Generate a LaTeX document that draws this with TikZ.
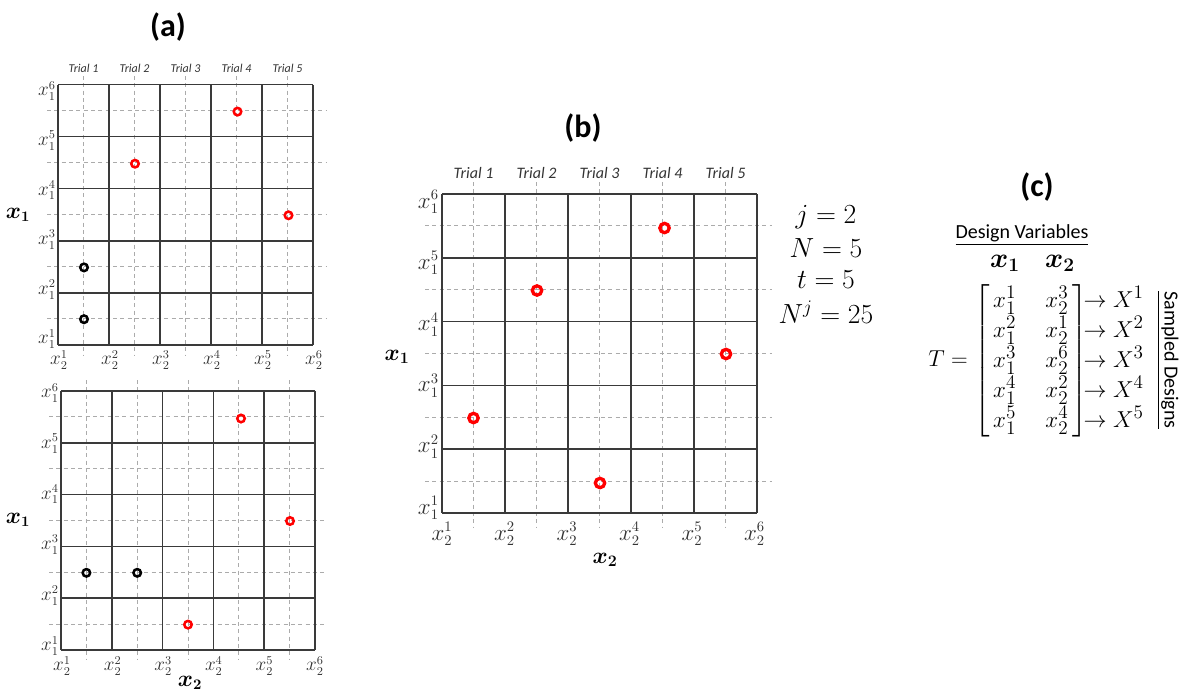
\documentclass[tikz,border=0pt]{standalone}
\usepackage{amsmath}
\usepackage{fontspec}
\setmainfont{Carlito}
\definecolor{gridc}{HTML}{3A3A3A}
\definecolor{dashc}{HTML}{ABABAB}
\definecolor{labc}{HTML}{333333}
\definecolor{ptred}{HTML}{FF0000}
\tikzset{
  gridline/.style={draw=gridc, line width=1.1pt},
  dashline/.style={draw=dashc, line width=0.7pt, dash pattern=on 3pt off 2.5pt},
  ttl/.style={font=\fontsize{24}{28}\selectfont\bfseries, inner sep=0},
  trialA/.style={font=\fontsize{9}{10}\selectfont\itshape, text=labc, inner sep=0},
  trialB/.style={font=\fontsize{12}{14}\selectfont\itshape, text=labc, inner sep=0},
  labA/.style={font=\fontsize{13.5}{15}\selectfont, text=labc, inner sep=0},
  labB/.style={font=\fontsize{16}{18}\selectfont, text=labc, inner sep=0},
  axA/.style={font=\fontsize{16}{18}\selectfont, inner sep=0},
  axB/.style={font=\fontsize{18}{20}\selectfont, inner sep=0},
  ptA/.style={circle, line width=1.9pt, minimum size=5.6pt, inner sep=0},
  ptB/.style={circle, draw=ptred, line width=2.5pt, minimum size=7pt, inner sep=0},
  param/.style={font=\fontsize{21}{24}\selectfont, inner sep=0},
  ctext/.style={font=\fontsize{15}{17}\selectfont, inner sep=0},
  chead/.style={font=\fontsize{20}{22}\selectfont, inner sep=0},
}
\begin{document}
\begin{tikzpicture}[x=0.75pt,y=-0.75pt]
\useasboundingbox (0,0) rectangle (1181,693);

% ================= (a) top =================
\node[ttl] (ta) at (168,27) {(a)};
\foreach \i in {1,...,5} {
  \draw[dashline] ({58+(\i-0.5)*51},76) -- ({58+(\i-0.5)*51},355);
  \draw[dashline] (47,{84.5+(\i-0.5)*52.1}) -- (326,{84.5+(\i-0.5)*52.1});
  \node[trialA] (atr\i) at ({58+(\i-0.5)*51},68) {Trial \i};
}
\foreach \i in {0,...,5} {
  \draw[gridline] ({58+\i*51},84.5) -- ({58+\i*51},345);
  \draw[gridline] (58,{84.5+\i*52.1}) -- (313,{84.5+\i*52.1});
}
\foreach \k in {1,...,6} {
  \node[labA, anchor=east] (ay\k) at (56,{91+(6-\k)*49.6}) {$x_1^{\k}$};
  \node[labA, anchor=north] (ax\k) at ({59+(\k-1)*51},350) {$x_2^{\k}$};
}
\node[axA] (aX1) at (18,215) {$\boldsymbol{x_1}$};
\node[ptA, draw=ptred] (ap1) at (237.5,111.6) {};
\node[ptA, draw=ptred] (ap2) at (135,163.7) {};
\node[ptA, draw=ptred] (ap3) at (288.5,215.3) {};
\node[ptA, draw=black] (ap4) at (84,267.4) {};
\node[ptA, draw=black] (ap5) at (84,319.2) {};

% ================= (a) bottom =================
\foreach \i in {1,...,5} {
  \draw[dashline] ({61+(\i-0.5)*50.8},380) -- ({61+(\i-0.5)*50.8},660);
  \draw[dashline] (49,{391+(\i-0.5)*51.8}) -- (327,{391+(\i-0.5)*51.8});
}
\foreach \i in {0,...,5} {
  \draw[gridline] ({61+\i*50.8},391) -- ({61+\i*50.8},650);
  \draw[gridline] (61,{391+\i*51.8}) -- (315,{391+\i*51.8});
}
\foreach \k in {1,...,6} {
  \node[labA, anchor=east] (by\k) at (59,{393+(6-\k)*50.6}) {$x_1^{\k}$};
  \node[labA, anchor=north] (bx\k) at ({62+(\k-1)*50.6},656) {$x_2^{\k}$};
}
\node[axA] (bX1) at (18,520) {$\boldsymbol{x_1}$};
\node[axA] (bX2) at (190,683) {$\boldsymbol{x_2}$};
\node[ptA, draw=ptred] (bp1) at (241,418.5) {};
\node[ptA, draw=ptred] (bp2) at (290,521) {};
\node[ptA, draw=black] (bp3) at (86.4,572.8) {};
\node[ptA, draw=black] (bp4) at (137.2,572.8) {};
\node[ptA, draw=ptred] (bp5) at (188,624.6) {};

% ================= (b) =================
\node[ttl] (tb) at (583,128) {(b)};
\foreach \i in {1,...,5} {
  \draw[dashline] ({442+(\i-0.5)*63},182) -- ({442+(\i-0.5)*63},527);
  \draw[dashline] (425,{194+(\i-0.5)*63.8}) -- (772,{194+(\i-0.5)*63.8});
  \node[trialB] (ctr\i) at ({442+(\i-0.5)*63},173) {Trial \i};
}
\foreach \i in {0,...,5} {
  \draw[gridline] ({442+\i*63},194) -- ({442+\i*63},513);
  \draw[gridline] (442,{194+\i*63.8}) -- (757,{194+\i*63.8});
}
\foreach \k in {1,...,6} {
  \node[labB, anchor=east] (cy\k) at (439,{202+(6-\k)*61.2}) {$x_1^{\k}$};
  \node[labB, anchor=north] (cx\k) at ({442+(\k-1)*62.5},522) {$x_2^{\k}$};
}
\node[axB] (cX1) at (397,357) {$\boldsymbol{x_1}$};
\node[axB] (cX2) at (605,560) {$\boldsymbol{x_2}$};
\node[ptB] (cp1) at (473.5,418) {};
\node[ptB] (cp2) at (537,290.5) {};
\node[ptB] (cp3) at (600,483) {};
\node[ptB] (cp4) at (664.5,228) {};
\node[ptB] (cp5) at (726,354) {};
\node[param] (pj) at (826,217) {$j=2$};
\node[param] (pN) at (826,248) {$N=5$};
\node[param] (pt) at (826,280) {$t=5$};
\node[param] (pNj) at (826,312) {$N^j=25$};

% ================= (c) =================
\node[ttl] (tc) at (1037,187) {(c)};
\node[ctext] (dv) at (1022,235) {\underline{Design Variables}};
\node[chead] (h1) at (1005,263) {$\boldsymbol{x_1}$};
\node[chead] (h2) at (1060,263) {$\boldsymbol{x_2}$};
\node[font=\fontsize{19}{22.5}\selectfont, inner sep=0, anchor=west] (T) at (928,361)
  {\renewcommand{\arraystretch}{1.0}$T=\left[\begin{array}{@{\,}c@{\hspace{22pt}}c@{\,}}
   x_1^1 & x_2^3\\ x_1^2 & x_2^1\\ x_1^3 & x_2^6\\ x_1^4 & x_2^2\\ x_1^5 & x_2^4
   \end{array}\right]\!\!\begin{array}{@{}l@{}}
   \rightarrow X^1\\ \rightarrow X^2\\ \rightarrow X^3\\ \rightarrow X^4\\ \rightarrow X^5
   \end{array}$};
\node[ctext, rotate=-90] (sd) at (1168,360) {\underline{Sampled Designs}};
\end{tikzpicture}
\end{document}
